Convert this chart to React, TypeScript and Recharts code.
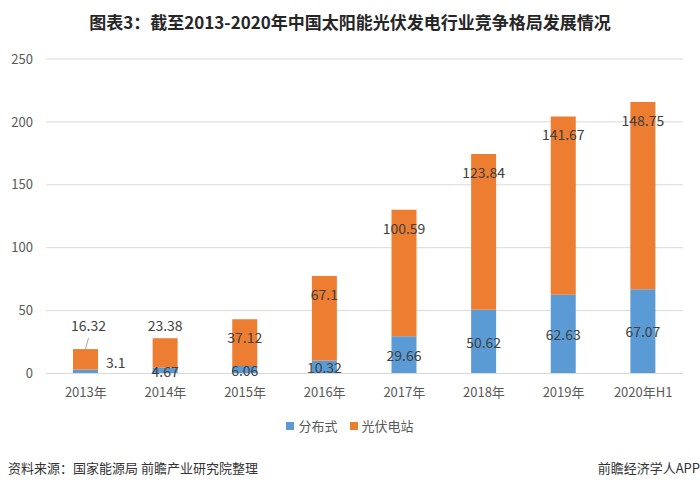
import { Bar, BarChart, CartesianGrid, LabelList, XAxis, YAxis } from "recharts";

const years = ["2013年", "2014年", "2015年", "2016年", "2017年", "2018年", "2019年", "2020年H1"];
const distributed = [3.1, 4.67, 6.06, 10.32, 29.66, 50.62, 62.63, 67.07];
const station = [16.32, 23.38, 37.12, 67.1, 100.59, 123.84, 141.67, 148.75];
const yTicks = [0, 50, 100, 150, 200, 250];

const data = years.map((year, i) => ({
  year,
  distributed: distributed[i],
  station: station[i],
}));

const BLUE = "#5B9BD5";
const ORANGE = "#ED7D31";
const FONT = '"Noto Sans CJK SC", "Liberation Sans", sans-serif';
const LABEL = { fill: "#404040", fontSize: 14, fontFamily: FONT };

// blue segment: centred, except the tiny 2013 one which sits beside the bar
function blueLabel(props: any) {
  const x = Number(props.x), y = Number(props.y);
  const w = Number(props.width), h = Number(props.height);
  if (props.index === 0) {
    return (
      <text x={x + w + 8} y={y - 8} dominantBaseline="central" {...LABEL}>
        {props.value}
      </text>
    );
  }
  return (
    <text x={x + w / 2} y={y + h / 2} textAnchor="middle" dominantBaseline="central" {...LABEL}>
      {props.value}
    </text>
  );
}

// orange segment: inside the top, except the short early bars
function orangeLabel(props: any) {
  const x = Number(props.x), y = Number(props.y), w = Number(props.width);
  const cx = x + w / 2;
  if (props.index === 0) {
    return (
      <g>
        <line x1={cx} y1={y} x2={cx + 3} y2={y - 11} stroke="#a6a6a6" strokeWidth={1} />
        <text x={cx + 3} y={y - 24} textAnchor="middle" dominantBaseline="central" {...LABEL}>
          {props.value}
        </text>
      </g>
    );
  }
  const cy = props.index === 1 ? y - 13 : y + 18;
  return (
    <text x={cx} y={cy} textAnchor="middle" dominantBaseline="central" {...LABEL}>
      {props.value}
    </text>
  );
}

export default function App() {
  return (
    <div
      style={{
        position: "absolute",
        left: 0,
        top: 0,
        width: 700,
        height: 489,
        background: "#fff",
        fontFamily: FONT,
        overflow: "hidden",
      }}
    >
      <div
        style={{
          position: "absolute",
          top: 8,
          left: 0,
          width: 700,
          textAlign: "center",
          fontSize: 17,
          fontWeight: 700,
          color: "#262626",
          lineHeight: "28px",
        }}
      >
        图表3：截至2013-2020年中国太阳能光伏发电行业竞争格局发展情况
      </div>

      <BarChart
        width={700}
        height={489}
        data={data}
        margin={{ top: 59, right: 17, left: 0, bottom: 85.5 }}
      >
        <CartesianGrid vertical={false} stroke="#d9d9d9" />
        <XAxis
          dataKey="year"
          height={30}
          tickLine={false}
          tickSize={0}
          tickMargin={14}
          axisLine={{ stroke: "#d9d9d9" }}
          tick={{ fill: "#595959", fontSize: 13, fontFamily: FONT }}
        />
        <YAxis
          width={46}
          domain={[0, 250]}
          ticks={yTicks}
          tickLine={false}
          axisLine={false}
          tickSize={0}
          tickMargin={13}
          tick={{ fill: "#595959", fontSize: 13, fontFamily: FONT }}
        />
        <Bar dataKey="distributed" stackId="a" fill={BLUE} barSize={25} isAnimationActive={false}>
          <LabelList dataKey="distributed" content={blueLabel} />
        </Bar>
        <Bar dataKey="station" stackId="a" fill={ORANGE} barSize={25} isAnimationActive={false}>
          <LabelList dataKey="station" content={orangeLabel} />
        </Bar>
      </BarChart>

      <div
        style={{
          position: "absolute",
          top: 417,
          left: 0,
          width: 700,
          display: "flex",
          justifyContent: "center",
          alignItems: "center",
          fontSize: 13,
          color: "#595959",
          lineHeight: "18px",
        }}
      >
        <span style={{ width: 8, height: 8, background: BLUE, marginRight: 4 }} />
        <span style={{ marginRight: 12 }}>分布式</span>
        <span style={{ width: 8, height: 8, background: ORANGE, marginRight: 4 }} />
        <span>光伏电站</span>
      </div>

      <div
        style={{
          position: "absolute",
          top: 458,
          left: 8,
          fontSize: 13,
          color: "#333",
          lineHeight: "20px",
        }}
      >
        资料来源：国家能源局 前瞻产业研究院整理
      </div>
      <div
        style={{
          position: "absolute",
          top: 458,
          right: 0,
          fontSize: 13,
          color: "#333",
          lineHeight: "20px",
        }}
      >
        前瞻经济学人APP
      </div>
    </div>
  );
}
